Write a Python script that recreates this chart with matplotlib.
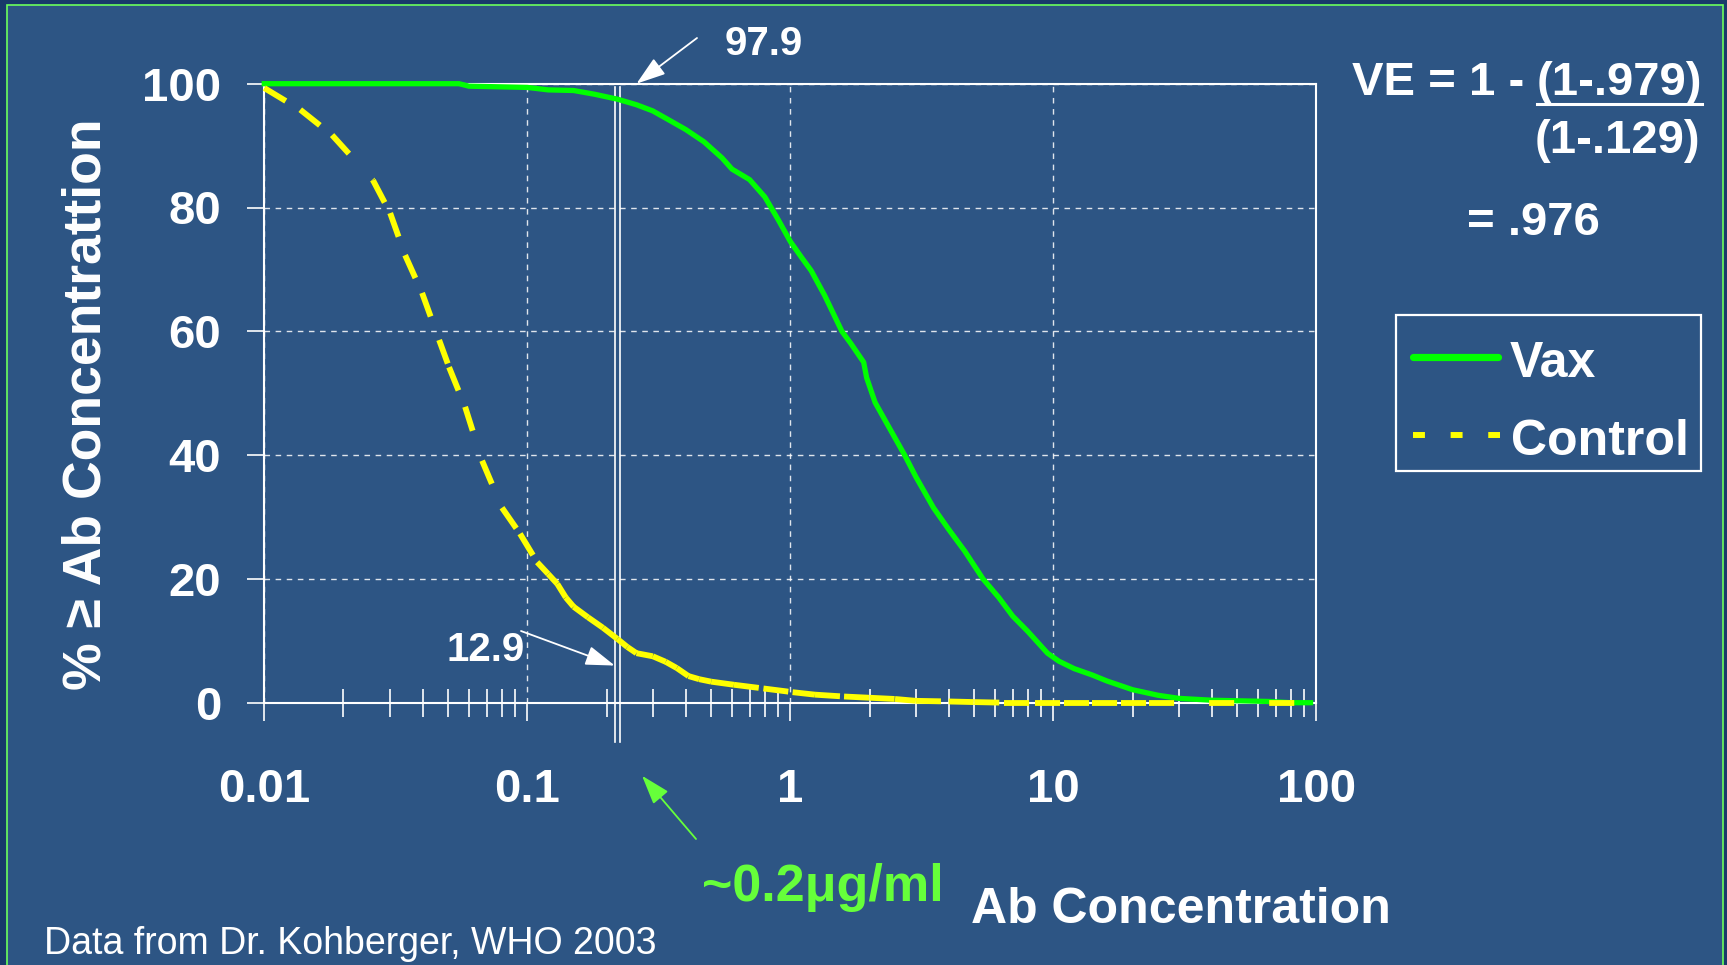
import matplotlib
matplotlib.use("Agg")
import matplotlib.pyplot as plt
from matplotlib.collections import LineCollection
from matplotlib.lines import Line2D
from matplotlib.patches import Rectangle
from matplotlib.ticker import LogLocator, NullFormatter

# ---- data ----
vax_conc = [0.01, 0.055, 0.06, 0.1, 0.12, 0.15, 0.18, 0.22, 0.26, 0.3, 0.35, 0.4,
            0.47, 0.55, 0.6, 0.7, 0.8, 0.9, 1.0, 1.1, 1.2, 1.35, 1.57, 1.7, 1.9,
            1.95, 2.1, 2.3, 2.72, 3.0, 3.5, 4.0, 4.6, 5.4, 6.2, 7.0, 8.0, 9.5,
            10.5, 12, 14, 16, 20, 25, 30, 40, 66, 80, 95]
vax_pct = [100, 100, 99.6, 99.4, 99.0, 98.9, 98.3, 97.5, 96.6, 95.6, 94.0, 92.6,
           90.6, 88.0, 86.2, 84.5, 81.7, 78.0, 74.5, 72.0, 69.8, 65.8, 60.0, 58.0, 55.0,
           52.5, 48.5, 45.5, 40.0, 36.5, 31.5, 28.0, 24.5, 20.0, 17.0, 14.0, 11.5, 8.0,
           6.7, 5.5, 4.5, 3.5, 2.1, 1.2, 0.7, 0.4, 0.2, 0.0, 0.0]

ctrl_conc = [0.01, 0.0137, 0.0181, 0.0259, 0.0301, 0.0343, 0.0398, 0.0462, 0.0504,
             0.058, 0.0673, 0.0801, 0.0938, 0.109, 0.12, 0.13, 0.14, 0.15, 0.17,
             0.194, 0.22, 0.24, 0.26, 0.3, 0.336, 0.37, 0.41, 0.45, 0.5, 0.61, 0.79,
             1.02, 1.24, 1.6, 2.0, 2.5, 3.0, 4.0, 5.0, 6.5, 8.5, 11, 14, 18, 23, 95]
ctrl_pct = [99.3, 95.8, 91.7, 84.4, 79.1, 72.3, 66.2, 58.6, 54.2,
            47.8, 39.1, 31.5, 27.3, 22.7, 20.8, 19.2, 17.0, 15.5, 13.8,
            12.1, 10.3, 9.0, 8.0, 7.5, 6.6, 5.6, 4.3, 3.8, 3.4, 2.9, 2.3,
            1.7, 1.3, 1.0, 0.8, 0.6, 0.3, 0.2, 0.1, 0.0, 0.0, 0.0, 0.0, 0.0, 0.0, 0.0]

series_names = ["Vax", "Control"]
x_ticks = [0.01, 0.1, 1, 10, 100]
x_tick_labels = ["0.01", "0.1", "1", "10", "100"]
y_ticks = [0, 20, 40, 60, 80, 100]
cutoff = 0.22          # ~0.2 ug/ml threshold
vax_at_cutoff = "97.9"
ctrl_at_cutoff = "12.9"

BG = "#2d5584"
GREEN = "#00ff00"
YELLOW = "#ffff00"
TEXT_GREEN = "#66ff3a"

W, H = 1727, 965
plt.rcParams["font.family"] = ["Liberation Sans", "DejaVu Sans"]
plt.rcParams["font.weight"] = "bold"


def fp(x, y_top):
    # figure fraction from pixel position measured from top-left
    return x / W, 1 - y_top / H


fig = plt.figure(figsize=(W / 100, H / 100), dpi=100)
fig.patch.set_facecolor("#183a6a")
fig.add_artist(Rectangle((7 / W, -0.02), (1723 - 7) / W, 1.02 - 5 / H,
                         transform=fig.transFigure, facecolor=BG,
                         edgecolor="#6cff5c", lw=1.2, zorder=-5))

ax = fig.add_axes([264.3 / W, 1 - 702.7 / H, (1316.4 - 264.3) / W, (702.7 - 83.7) / H])
ax.set_facecolor("none")
ax.set_xscale("log")

# curves
vax_style = dict(color=GREEN, lw=3.8)
ctrl_style = dict(color=YELLOW, lw=4.2)
ax.plot(vax_conc, vax_pct, clip_on=False, zorder=4, solid_joinstyle="round", **vax_style)
# control drawn segment by segment so the dash restarts at every point (as in Excel)
segs = [[(ctrl_conc[i], ctrl_pct[i]), (ctrl_conc[i + 1], ctrl_pct[i + 1])]
        for i in range(len(ctrl_conc) - 1)]
lc = LineCollection(segs, colors=ctrl_style["color"], linewidths=ctrl_style["lw"],
                    linestyles=[(0, (4.3, 6))], capstyle="butt",
                    clip_on=False, zorder=5)
ax.add_collection(lc, autolim=False)

ax.set_xlim(0.01, 100)
ax.set_ylim(0, 100)
ax.set_xticks(x_ticks)
ax.set_xticklabels(x_tick_labels)
ax.xaxis.set_minor_locator(LogLocator(base=10, subs=range(2, 10)))
ax.xaxis.set_minor_formatter(NullFormatter())
ax.set_yticks(y_ticks)
ax.set_yticklabels([str(v) for v in y_ticks])

ax.grid(True, which="major", color="white", ls=(0, (4, 4)), lw=1.0, alpha=0.85)
ax.tick_params(axis="x", which="major", direction="out", length=13, width=1.2,
               color="white", labelcolor="white", labelsize=34, pad=34)
ax.tick_params(axis="x", which="minor", direction="inout", length=20, width=1.2,
               color="white")
ax.tick_params(axis="y", which="major", direction="out", length=12, width=1.2,
               color="white", labelcolor="white", labelsize=34, pad=19)
for s in ax.spines.values():
    s.set_color("white")
    s.set_linewidth(1.5)

# double cutoff marker
for off in (-0.0085, 0.0085):
    xc = cutoff * 10 ** off
    ax.plot([xc, xc], [99.5, -6.4], color="white", lw=1.2, clip_on=False, zorder=3)

arrow = dict(arrowstyle="-|>,head_length=0.9,head_width=0.3", color="white",
             lw=1.3, mutation_scale=20, shrinkA=0, shrinkB=0)
ax.annotate("", xy=(0.26, 100), xycoords="data", xytext=fp(697, 38),
            textcoords="figure fraction", arrowprops=arrow, annotation_clip=False)
ax.annotate("", xy=(0.215, 6), xycoords="data", xytext=fp(521, 631),
            textcoords="figure fraction", arrowprops=arrow, annotation_clip=False)
garrow = dict(arrow, color=TEXT_GREEN)
ax.annotate("", xy=(0.273, -11.8), xycoords="data", xytext=fp(696, 839),
            textcoords="figure fraction", arrowprops=garrow, annotation_clip=False)

fig.text(*fp(764, 44), vax_at_cutoff, ha="center", va="center", size=29, color="white")
fig.text(*fp(486, 650), ctrl_at_cutoff, ha="center", va="center", size=29, color="white")
fig.text(*fp(702, 901), "~0.2\u03bcg/ml", ha="left", va="baseline", size=37.5, color=TEXT_GREEN)
fig.text(*fp(971, 923), "Ab Concentration", ha="left", va="baseline", size=36, color="white")
fig.text(*fp(44, 954), "Data from Dr. Kohberger, WHO 2003", ha="left", va="baseline",
         size=27, color="white", weight="normal")
fig.text(*fp(87, 404), "% \u2265 Ab Concentrattion", rotation=90, ha="center", va="center",
         size=38.5, color="white")

# VE formula
t_frac = fig.text(*fp(1702, 95), "(1-.979)", ha="right", va="baseline", size=34, color="white")
fig.canvas.draw()
bb = t_frac.get_window_extent(fig.canvas.get_renderer())
fig.text((bb.x0 - 12) / W, 1 - 95 / H, "VE = 1 -", ha="right", va="baseline", size=34,
         color="white")
fig.add_artist(Line2D([bb.x0 / W, bb.x1 / W], [1 - 104 / H, 1 - 104 / H],
                      transform=fig.transFigure, color="white", lw=2.2))
fig.text(*fp(1700, 152.7), "(1-.129)", ha="right", va="baseline", size=34, color="white")
fig.text(*fp(1533, 235), "= .976", ha="center", va="baseline", size=34, color="white")

# legend box, laid out like the slide
fig.add_artist(Rectangle(fp(1396, 471), (1701 - 1396) / W, (471 - 315) / H,
                         transform=fig.transFigure, facecolor=BG, edgecolor="white",
                         lw=1.6))
fig.add_artist(Line2D([1413 / W, 1498 / W], [1 - 357 / H] * 2, transform=fig.transFigure,
                      solid_capstyle="round", color=vax_style["color"], lw=5.2))
fig.add_artist(Line2D([1413 / W, 1500 / W], [1 - 435 / H] * 2, transform=fig.transFigure,
                      ls=(0, (2.0, 4.3)), dash_capstyle="butt",
                      color=ctrl_style["color"], lw=4.3))
fig.text(*fp(1510, 377), series_names[0], ha="left", va="baseline", size=36, color="white")
fig.text(*fp(1511, 455), series_names[1], ha="left", va="baseline", size=36, color="white")

fig.savefig("out.png", dpi=100, facecolor=fig.get_facecolor())
